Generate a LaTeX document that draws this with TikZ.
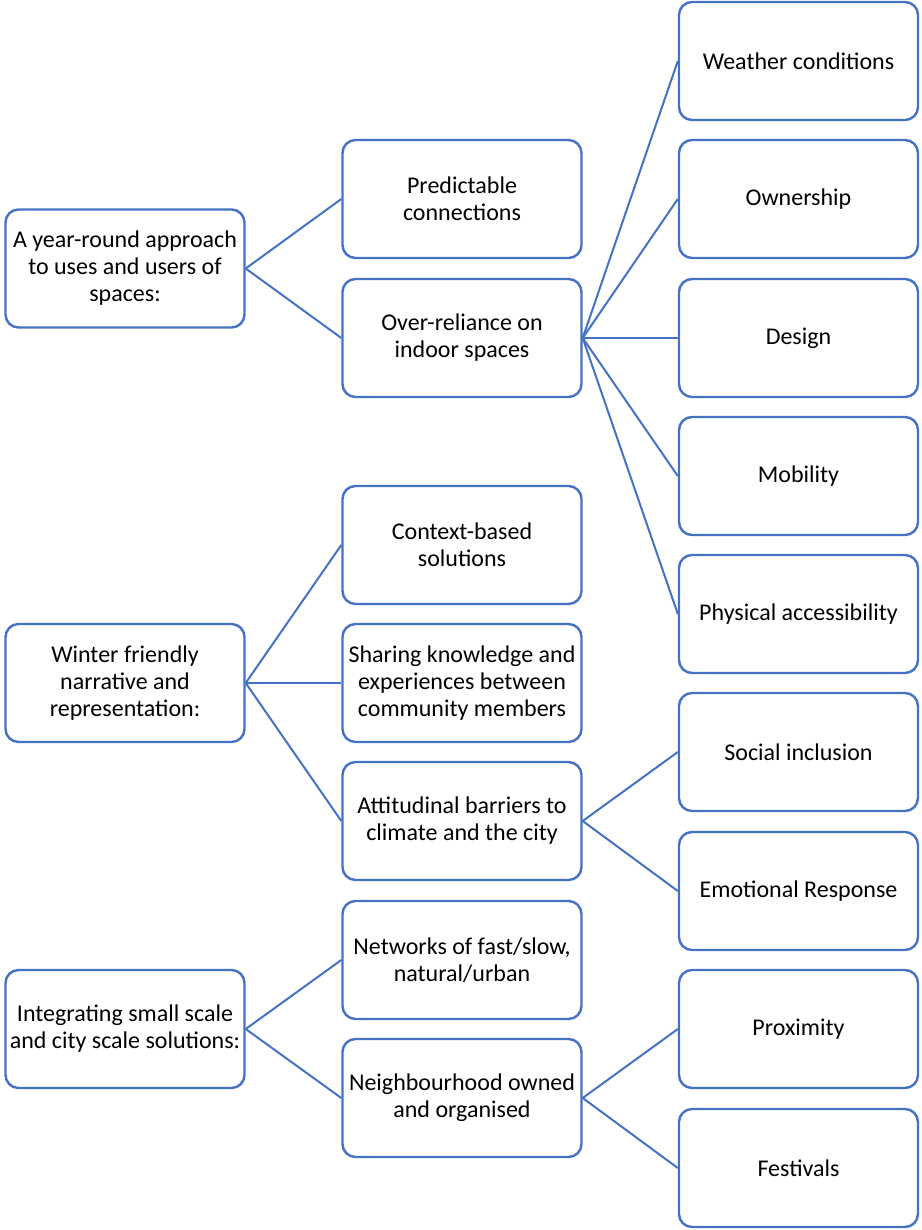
\documentclass[tikz,border=0pt]{standalone}
\usepackage{fontspec}
\setmainfont{Carlito}
\definecolor{sablue}{HTML}{4472C4}
\begin{document}
\begin{tikzpicture}[x=1pt,y=-1pt,
  box/.style={draw=sablue, line width=2.4pt, rounded corners=13pt, fill=white,
    minimum width=239pt, minimum height=118pt, inner sep=1pt, align=center,
    font=\fontsize{24}{27}\selectfont, text=black},
  link/.style={draw=sablue, line width=2pt}]
\useasboundingbox (0,0) rectangle (921,1230);
% column 1
\node[box] (a1) at (125,268.5) {A year-round approach\\to uses and users of\\spaces:};
\node[box] (a2) at (125,683) {Winter friendly\\narrative and\\representation:};
\node[box] (a3) at (125,1029) {Integrating small scale\\and city scale solutions:};
% column 2
\node[box] (b1) at (462,199) {Predictable\\connections};
\node[box] (b2) at (462,338) {Over-reliance on\\indoor spaces};
\node[box] (b3) at (462,545) {Context-based\\solutions};
\node[box] (b4) at (462,683) {Sharing knowledge and\\experiences between\\community members};
\node[box] (b5) at (462,821) {Attitudinal barriers to\\climate and the city};
\node[box] (b6) at (462,960) {Networks of fast/slow,\\natural/urban};
\node[box] (b7) at (462,1098) {Neighbourhood owned\\and organised};
% column 3
\node[box] (c1) at (798.5,61) {Weather conditions};
\node[box] (c2) at (798.5,199) {Ownership};
\node[box] (c3) at (798.5,338) {Design};
\node[box] (c4) at (798.5,476) {Mobility};
\node[box] (c5) at (798.5,614) {Physical accessibility};
\node[box] (c6) at (798.5,752) {Social inclusion};
\node[box] (c7) at (798.5,891) {Emotional Response};
\node[box] (c8) at (798.5,1029) {Proximity};
\node[box] (c9) at (798.5,1168) {Festivals};
% connectors
\foreach \p/\c in {a1/b1,a1/b2,a2/b3,a2/b4,a2/b5,a3/b6,a3/b7,
  b2/c1,b2/c2,b2/c3,b2/c4,b2/c5,b5/c6,b5/c7,b7/c8,b7/c9}
  \draw[link] (\p.east) -- (\c.west);
\end{tikzpicture}
\end{document}
